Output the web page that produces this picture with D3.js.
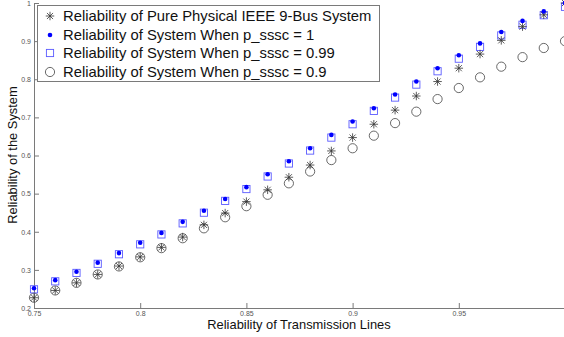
<!DOCTYPE html>
<html><head><meta charset="utf-8">
<script src="https://cdn.jsdelivr.net/npm/d3@7"></script>
<style>html,body{margin:0;padding:0;background:#fff;}svg{display:block;}</style>
</head><body>
<script>
const xValues = [0.75,0.76,0.77,0.78,0.79,0.80,0.81,0.82,0.83,0.84,0.85,0.86,0.87,0.88,0.89,0.90,0.91,0.92,0.93,0.94,0.95,0.96,0.97,0.98,0.99,1.00];
const pure = [0.227,0.246,0.266,0.288,0.310,0.334,0.359,0.386,0.418,0.449,0.479,0.510,0.543,0.575,0.612,0.647,0.682,0.719,0.756,0.794,0.829,0.866,0.902,0.938,0.969,1.0];
const sssc1 = [0.252,0.273,0.295,0.319,0.344,0.371,0.397,0.426,0.455,0.486,0.517,0.551,0.585,0.619,0.654,0.689,0.724,0.760,0.794,0.829,0.863,0.894,0.924,0.953,0.978,1.0];
const sssc099 = [0.249,0.270,0.292,0.316,0.341,0.367,0.393,0.422,0.450,0.481,0.512,0.545,0.579,0.613,0.647,0.682,0.717,0.752,0.786,0.821,0.854,0.885,0.915,0.943,0.968,0.99];
const sssc09 = [0.227,0.246,0.266,0.288,0.309,0.333,0.357,0.383,0.409,0.438,0.467,0.497,0.527,0.558,0.588,0.619,0.652,0.685,0.715,0.748,0.777,0.805,0.833,0.858,0.882,0.90];
const xTicks = [0.75,0.8,0.85,0.9,0.95];
const yTicks = [0.2,0.3,0.4,0.5,0.6,0.7,0.8,0.9,1];
const legendLabels = ["Reliability of Pure Physical IEEE 9-Bus System","Reliability of System When p_sssc = 1","Reliability of System When p_sssc = 0.99","Reliability of System When p_sssc = 0.9"];

const W=564,H=337;
const svg=d3.select("body").append("svg").attr("width",W).attr("height",H);
const x=d3.scaleLinear().domain([0.75,1.0]).range([34,565]);
const y=d3.scaleLinear().domain([0.2,1.0]).range([308,3]);
const axisCol="#7a7a7a", font="'Liberation Sans', Arial, sans-serif";

// axes
const xa=svg.append("g").attr("transform","translate(0,308)")
  .call(d3.axisBottom(x).tickValues(xTicks).tickSizeInner(-5).tickSizeOuter(0).tickPadding(3).tickFormat(d=>String(d)));
const ya=svg.append("g").attr("transform","translate(34,0)")
  .call(d3.axisLeft(y).tickValues(yTicks).tickSizeInner(-5).tickSizeOuter(0).tickPadding(3).tickFormat(d=>String(d)));
[xa,ya].forEach(a=>{
  a.select(".domain").attr("stroke",axisCol);
  a.selectAll(".tick line").attr("stroke",axisCol);
  a.selectAll(".tick text").attr("fill","#555").style("font-family",font).style("font-size","7px");
});

// markers
function star(g,cx,cy,s){
  const r=s/2, d=r*0.72;
  g.append("path").attr("d",`M${cx-r},${cy}L${cx+r},${cy}M${cx},${cy-r}L${cx},${cy+r}M${cx-d},${cy-d}L${cx+d},${cy+d}M${cx-d},${cy+d}L${cx+d},${cy-d}`)
   .attr("stroke","#333").attr("stroke-width",0.8).attr("fill","none");
}
const plot=svg.append("g");
// circles
plot.selectAll(".c").data(xValues).join("circle").attr("cx",d=>x(d)).attr("cy",(d,i)=>y(sssc09[i])).attr("r",4.6)
  .attr("fill","none").attr("stroke","#444").attr("stroke-width",0.8);
// squares
plot.selectAll(".s").data(xValues).join("rect").attr("x",d=>x(d)-3.6).attr("y",(d,i)=>y(sssc099[i])-3.6).attr("width",7.2).attr("height",7.2)
  .attr("fill","none").attr("stroke","#5a5aff").attr("stroke-width",0.9);
// stars
xValues.forEach((d,i)=>star(plot,x(d),y(pure[i]),8.5));
// dots
plot.selectAll(".d").data(xValues).join("circle").attr("cx",d=>x(d)).attr("cy",(d,i)=>y(sssc1[i])).attr("r",2.3).attr("fill","#0000ff");

// labels
svg.append("text").attr("x",299).attr("y",329).attr("text-anchor","middle").style("font-family",font).style("font-size","12.9px").attr("fill","#111").text("Reliability of Transmission Lines");
svg.append("text").attr("transform","translate(17,155) rotate(-90)").attr("text-anchor","middle").style("font-family",font).style("font-size","12.9px").attr("fill","#111").text("Reliability of the System");

// legend
const lg=svg.append("g");
lg.append("rect").attr("x",37.5).attr("y",5.5).attr("width",342).attr("height",76).attr("fill","#fff").attr("stroke",axisCol).attr("stroke-width",1);
const rowsY=[16,35,53,72];
star(lg,50,rowsY[0],8.5);
lg.append("circle").attr("cx",50).attr("cy",rowsY[1]).attr("r",2.3).attr("fill","#0000ff");
lg.append("rect").attr("x",46.4).attr("y",rowsY[2]-3.6).attr("width",7.2).attr("height",7.2).attr("fill","none").attr("stroke","#5a5aff").attr("stroke-width",0.9);
lg.append("circle").attr("cx",50).attr("cy",rowsY[3]).attr("r",4.6).attr("fill","none").attr("stroke","#444").attr("stroke-width",0.8);
legendLabels.forEach((t,i)=>lg.append("text").attr("x",63).attr("y",rowsY[i]+5.2).style("font-family",font).style("font-size","14.8px").attr("fill","#111").text(t));
</script>
</body></html>
